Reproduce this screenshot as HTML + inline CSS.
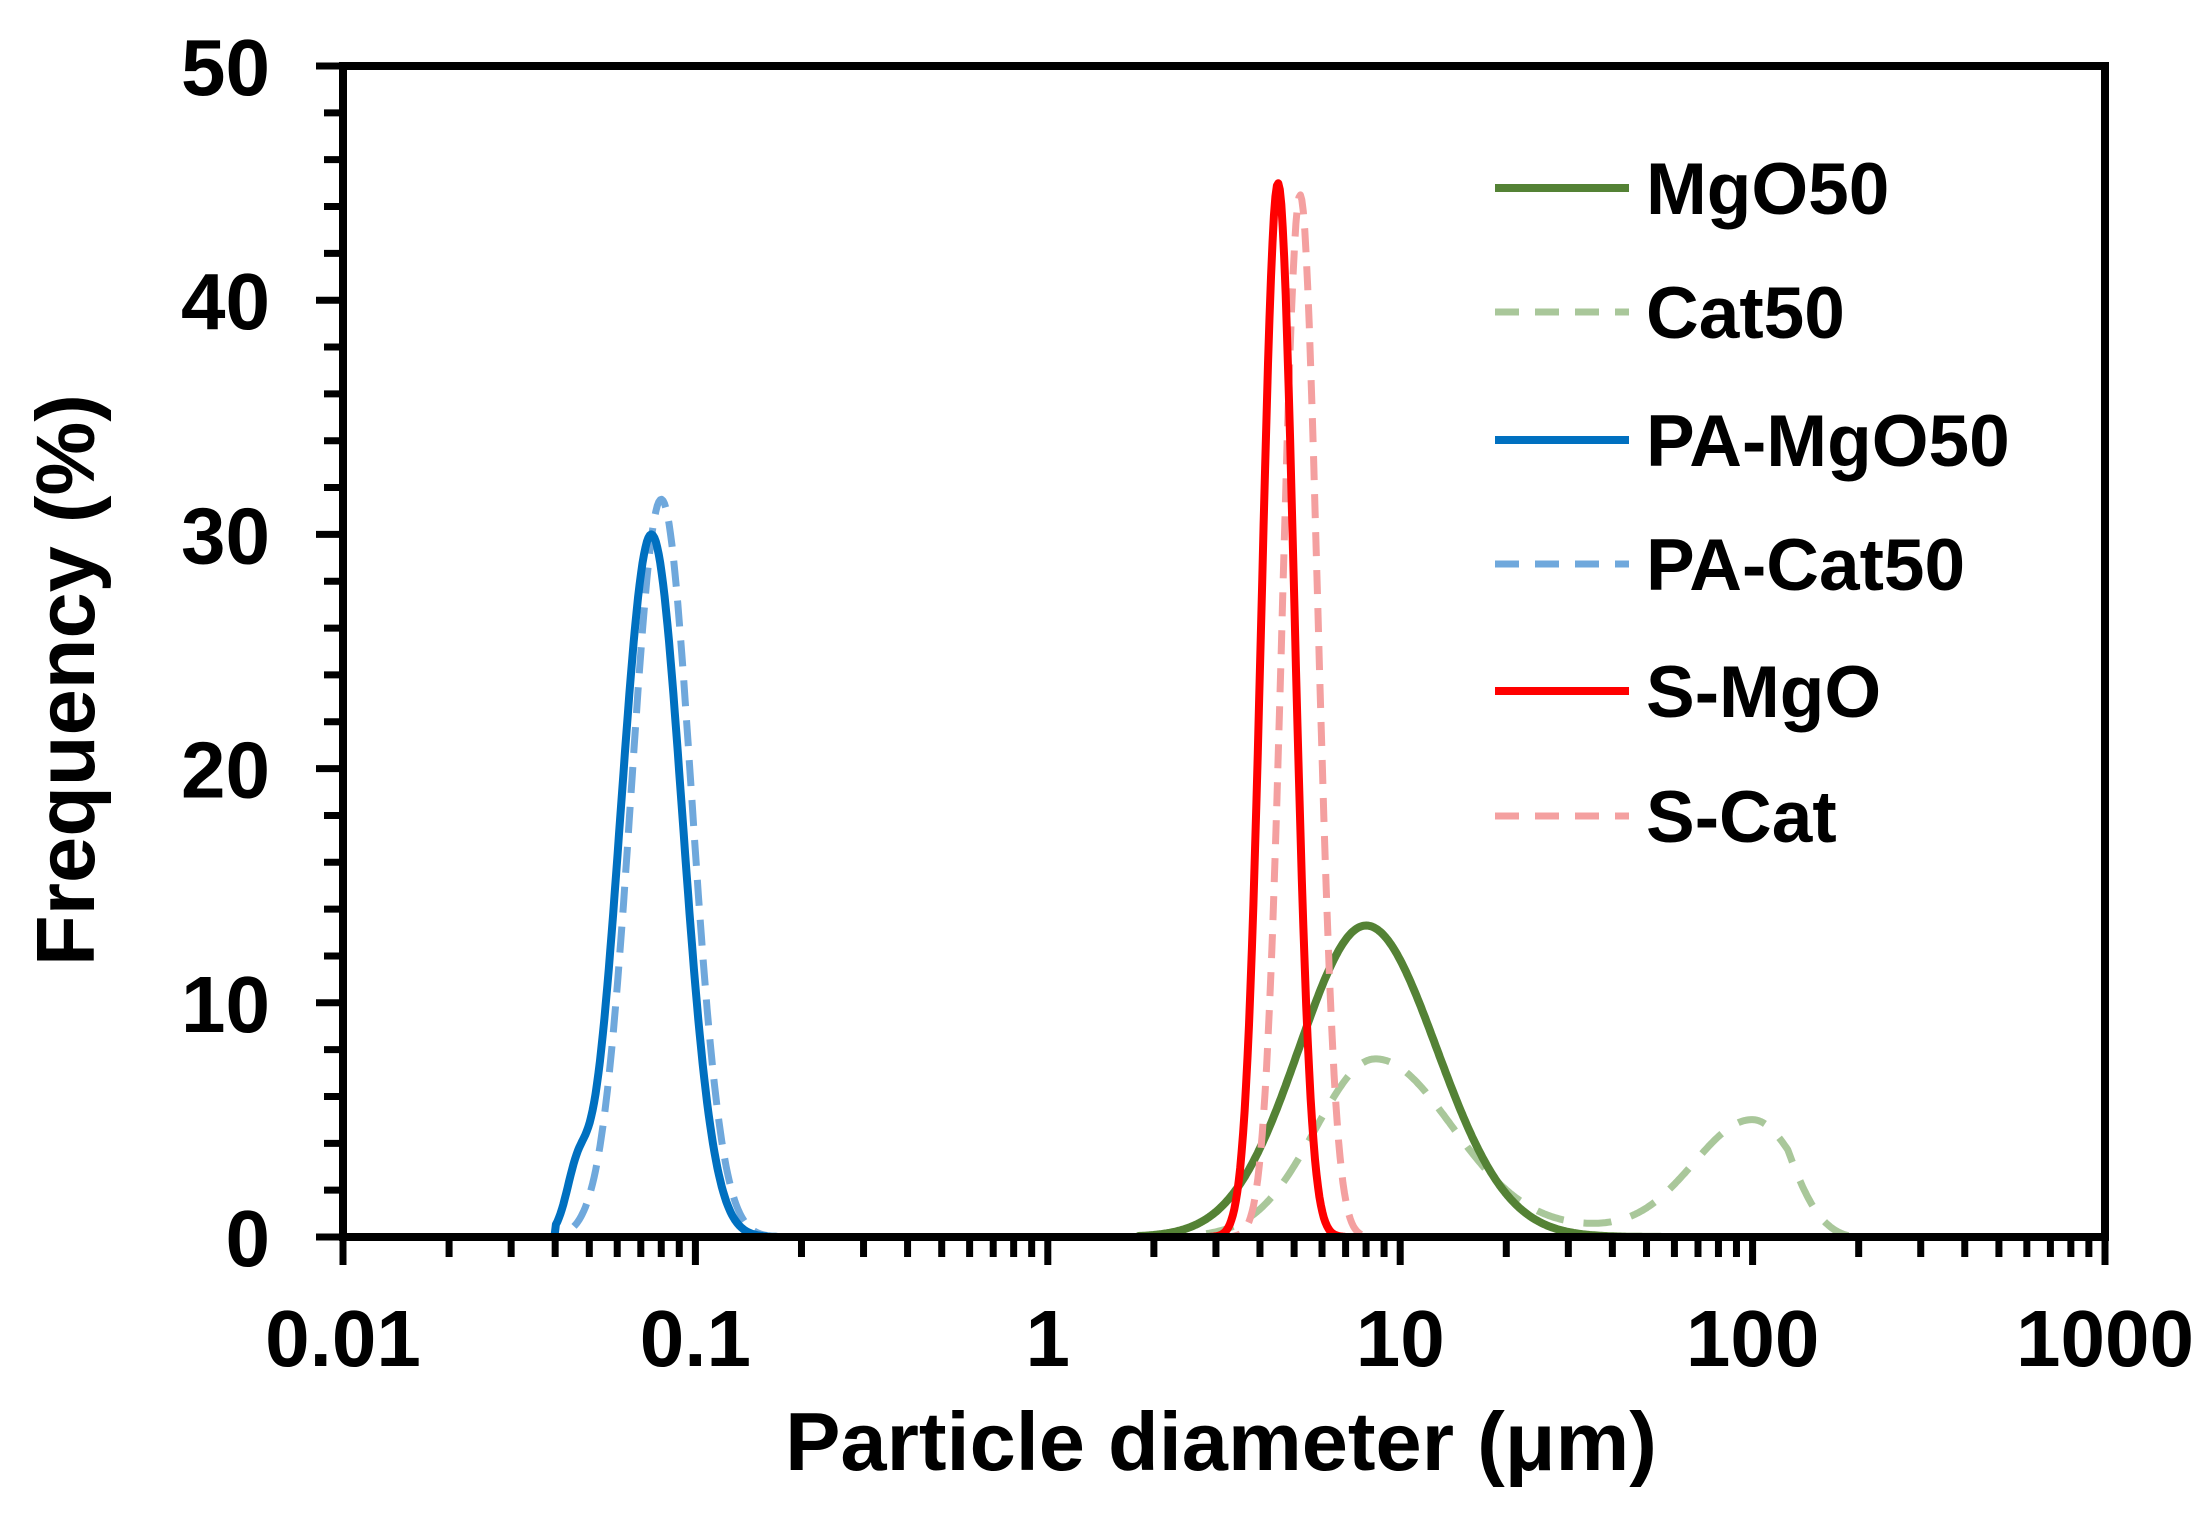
<!DOCTYPE html>
<html><head><meta charset="utf-8"><style>
html,body{margin:0;padding:0;background:#fff}
svg text{font-family:"Liberation Sans",Arial,sans-serif;font-weight:bold}
</style></head><body>
<svg id="s" width="2211" height="1513" xmlns="http://www.w3.org/2000/svg">
<rect width="2211" height="1513" fill="#fff"/>
<g id="curves"></g>
<rect x="343" y="66" width="1762" height="1171" fill="none" stroke="#000" stroke-width="8"/>
<g id="ticks" stroke="#000" stroke-width="7"></g>
<g font-size="80" text-anchor="end" id="ylab"></g>
<g font-size="80" text-anchor="middle" id="xlab"></g>
<text x="1221" y="1470" font-size="83" text-anchor="middle">Particle diameter (μm)</text>
<text transform="translate(94,680) rotate(-90)" font-size="83" text-anchor="middle">Frequency (%)</text>
<g font-size="73" id="leg"></g>
</svg>
<script>
const NS="http://www.w3.org/2000/svg";
const L=343,R=2105,T=66,B=1237,D=(R-L)/5;
const X=v=>L+D*(Math.log10(v)+2), Y=f=>B-f*(B-T)/50;
function el(p,tag,a,txt){const e=document.createElementNS(NS,tag);for(const k in a)e.setAttribute(k,a[k]);if(txt!=null)e.textContent=txt;document.getElementById(p).appendChild(e);return e;}
const g=(x,m,s)=>Math.exp(-0.5*Math.pow((x-m)/s,2));
function path(fn,lo,hi,color,w,dash){let d="";for(let i=0;i<=1200;i++){const lx=-2+5*i/1200;const v=Math.pow(10,lx);let f=(v<lo||v>hi)?0:Math.max(0,fn(lx));d+=(i?"L":"M")+X(v).toFixed(1)+","+Y(f).toFixed(1);}
const a={d:d,fill:"none",stroke:color,"stroke-width":w,"stroke-linejoin":"round"};if(dash)a["stroke-dasharray"]=dash;el("curves","path",a);}
const cat50=lx=>{let f=7.6*g(lx,Math.log10(8.5),lx<Math.log10(8.5)?0.17:0.22)+5*g(lx,2,lx<2?0.17:0.13)+0.3*g(lx,1.5,0.2);if(lx>2.1)f*=Math.max(0,(2.29-lx)/0.19);return f;};
path(cat50,2.5,200,"#a9c79a",7,"28,20");
path(lx=>13.3*g(lx,Math.log10(8),lx<Math.log10(8)?0.19:0.2),1.8,60,"#548235",8);
path(lx=>31.5*g(lx,Math.log10(0.08),0.085),0.045,0.16,"#6fa8dc",7,"26,14");
path(lx=>30*g(lx,Math.log10(0.075),0.087)+2*g(lx,Math.log10(0.046),0.03),0.04,0.17,"#0070c0",8);
path(lx=>44.5*g(lx,Math.log10(5.2),0.05),3.3,8,"#f4a0a0",7,"24,14");
path(lx=>45*g(lx,Math.log10(4.5),0.046),2.9,7,"#ff0000",8);
el("curves","line",{x1:L,y1:B,x2:R,y2:B,stroke:"#ff0000","stroke-width":8});
for(let f=0;f<=50;f+=2){const y=Y(f);const major=f%10==0;el("ticks","line",{x1:major?316:324,y1:y,x2:L,y2:y});
if(major)el("ylab","text",{x:270,y:y+29},String(f));}
for(let e=-2;e<=3;e++){const x=X(Math.pow(10,e));el("ticks","line",{x1:x,y1:B,x2:x,y2:B+28});
el("xlab","text",{x:x,y:1366},["0.01","0.1","1","10","100","1000"][e+2]);
if(e<3)for(let k=2;k<=9;k++){const xx=X(k*Math.pow(10,e));el("ticks","line",{x1:xx,y1:B,x2:xx,y2:B+20});}}
const items=[["MgO50","#548235",null,8],["Cat50","#a9c79a","24,16",7],["PA-MgO50","#0070c0",null,8],["PA-Cat50","#6fa8dc","24,16",7],["S-MgO","#ff0000",null,8],["S-Cat","#f4a0a0","24,16",7]];
const ys=[188,312,440,564,691,816];
items.forEach((it,i)=>{const a={x1:1495,y1:ys[i],x2:1629,y2:ys[i],stroke:it[1],"stroke-width":it[3]};if(it[2])a["stroke-dasharray"]=it[2];el("leg","line",a);
el("leg","text",{x:1646,y:ys[i]+26},it[0]);});
</script>
</body></html>
